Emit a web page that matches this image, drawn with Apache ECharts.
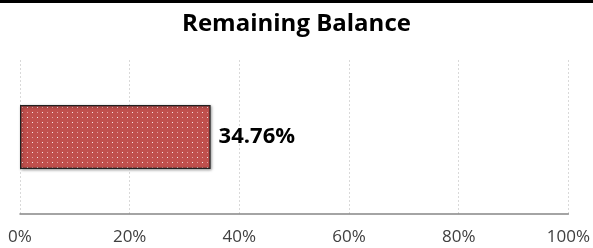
<!DOCTYPE html>
<html><head><meta charset="utf-8">
<script src="https://cdn.jsdelivr.net/npm/echarts@6/dist/echarts.min.js"></script>
<style>html,body{margin:0;padding:0;background:#fff;}#c{width:593px;height:248px;}</style>
</head><body><div id="c"></div>
<script>
var categories = ['Remaining Balance'];
var values = [34.76];
var tickLabels = ['0%','20%','40%','60%','80%','100%'];

function makePattern(){
  var cv = document.createElement('canvas');
  cv.width = 10; cv.height = 10;
  var ctx = cv.getContext('2d');
  ctx.fillStyle = '#c0504d';
  ctx.fillRect(0,0,10,10);
  ctx.fillStyle = 'rgba(255,255,255,0.85)';
  ctx.fillRect(2,2,1,1);
  ctx.fillRect(7,7,1,1);
  ctx.fillStyle = 'rgba(255,220,220,0.6)';
  ctx.fillRect(7,2,1,1);
  ctx.fillRect(2,7,1,1);
  return cv;
}

var chart = echarts.init(document.getElementById('c'), null, {renderer:'canvas'});
chart.setOption({
  animation:false,
  title:{text:'Remaining Balance', left:'center', top:7,
    textStyle:{fontFamily:'Open Sans', fontWeight:'bold', fontSize:24, color:'#000'}},
  graphic:[{type:'rect', shape:{x:0,y:0,width:593,height:3}, style:{fill:'#000'}}],
  grid:{left:20, right:24, top:60, bottom:34},
  xAxis:{type:'value', min:0, max:100, interval:20,
    axisLine:{show:true, lineStyle:{color:'#868686', width:1.5}},
    axisTick:{show:false},
    splitLine:{show:true, lineStyle:{color:'#d9d9d9', type:[2,2], width:1}},
    axisLabel:{margin:15, fontFamily:'Open Sans', fontSize:17, color:'#404040',
      formatter:function(v){return tickLabels[Math.round(v/20)];}}},
  yAxis:{type:'category', data:categories, show:false},
  series:[{type:'bar', data:values, barWidth:64,
    itemStyle:{color:{image:makePattern(), repeat:'repeat'}, borderColor:'#222', borderWidth:1.2,
      shadowColor:'rgba(0,0,0,0.35)', shadowBlur:3, shadowOffsetX:1, shadowOffsetY:1},
    label:{show:true, position:'right', distance:8, fontFamily:'Open Sans', fontWeight:'bold',
      fontSize:22, color:'#000', formatter:function(p){return p.value.toFixed(2)+'%';}}}]
});
</script></body></html>
